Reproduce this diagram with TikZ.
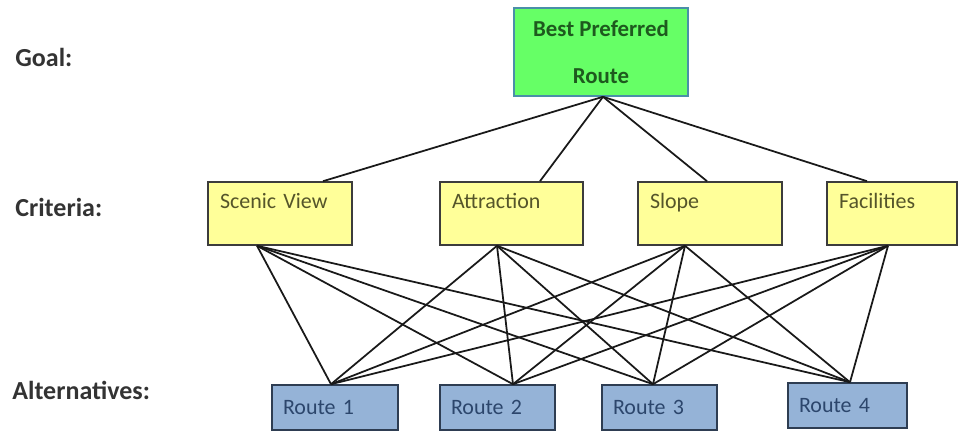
\documentclass[tikz,border=0pt]{standalone}
\usepackage{fontspec}
\setmainfont{Carlito}
\usepackage{tikz}
\usetikzlibrary{positioning, calc}
\definecolor{goalFill}  {HTML}{66FF66}
\definecolor{goalEdge}  {HTML}{4A8FA8}
\definecolor{goalText}  {HTML}{1E5A1E}
\definecolor{critFill}  {HTML}{FFFF99}
\definecolor{critEdge}  {HTML}{3C3C3C}
\definecolor{critText}  {HTML}{55552A}
\definecolor{altFill}   {HTML}{95B3D7}
\definecolor{altEdge}   {HTML}{2E3D52}
\definecolor{altText}   {HTML}{2C466C}
\definecolor{levelText} {HTML}{333333}

\begin{document}
\begin{tikzpicture}[
    level/.style={font=\fontsize{14.8}{17}\selectfont\bfseries, text=levelText,
           anchor=west, inner sep=0pt},
    critbox/.style={draw=critEdge, fill=critFill, line width=0.9pt,
           minimum width=#1, text width=#1-4.8mm, align=left,
           inner xsep=2.4mm, inner ysep=1mm,
           text height=4.4mm, text depth=6.2mm,
           font=\fontsize{12.5}{15}\selectfont, text=critText},
    altbox/.style={draw=altEdge, fill=altFill, line width=0.9pt,
           minimum width=#1, text width=#1-4.4mm, align=left, inner sep=0mm,
           minimum height=9mm,
           font=\fontsize{12.5}{15}\selectfont, text=altText},
    link/.style={line width=1pt, black!90},
  ]
  \useasboundingbox (0,0) rectangle (191.8mm, -86.4mm);

  % level labels
  \node[level] (lgoal) at (3mm, -11.4mm) {Goal:};
  \node[level] (lcrit) at (3mm, -41.4mm) {Criteria:};
  \node[level] (lalt)  at (2.4mm, -78mm) {Alternatives:};

  % goal
  \node[draw=goalEdge, fill=goalFill, line width=0.9pt,
        minimum width=34.8mm, minimum height=17.6mm,
        font=\fontsize{13}{15}\selectfont\bfseries, text=goalText, align=center]
        (goal) at (120.2mm, -10.4mm) {Best Preferred\\[4.2mm]Route};

  % criteria
  \node[critbox=28.8mm] (sv) at (56mm, -42.7mm)    {Scenic View};
  \node[critbox=28.6mm] (at) at (102.3mm, -42.7mm) {Attraction};
  \node[critbox=28.8mm] (sl) at (142mm, -42.7mm)   {Slope};
  \node[critbox=26mm]   (fa) at (178.4mm, -42.7mm) {Facilities};

  % alternatives
  \node[altbox=25.2mm] (r1) at (67mm, -81.5mm)    {Route 1};
  \node[altbox=23mm]   (r2) at (99.5mm, -81.5mm)  {Route 2};
  \node[altbox=23mm]   (r3) at (131.9mm, -81.5mm) {Route 3};
  \node[altbox=23.8mm] (r4) at (169.5mm, -81.1mm) {Route 4};

  % attach points
  \coordinate (goal-dn) at ([xshift=0.4mm]goal.south);
  \coordinate (sv-up) at ([xshift=8.6mm]sv.north);
  \coordinate (sv-dn) at ([xshift=-4.6mm]sv.south);
  \coordinate (at-up) at ([xshift=5.7mm]at.north);
  \coordinate (at-dn) at ([xshift=-2.9mm]at.south);
  \coordinate (sl-up) at ([xshift=-0.6mm]sl.north);
  \coordinate (sl-dn) at ([xshift=-5mm]sl.south);
  \coordinate (fa-up) at ([xshift=-5mm]fa.north);
  \coordinate (fa-dn) at ([xshift=-0.8mm]fa.south);
  \coordinate (r1-up) at ([xshift=-0.8mm]r1.north);
  \coordinate (r2-up) at ([xshift=3.1mm]r2.north);
  \coordinate (r3-up) at ([xshift=-1.3mm]r3.north);
  \coordinate (r4-up) at ([xshift=0.5mm]r4.north);

  % connectors
  \foreach \c in {sv, at, sl, fa} {
    \draw[link] (goal-dn) -- (\c-up);
    \foreach \r in {r1, r2, r3, r4}
      \draw[link] (\c-dn) -- (\r-up);
  }
\end{tikzpicture}
\end{document}
